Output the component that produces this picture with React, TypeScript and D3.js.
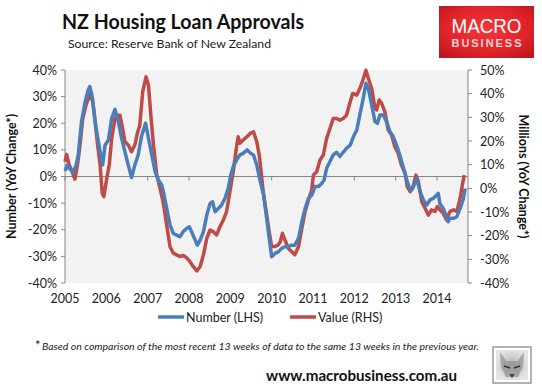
import * as d3 from "d3";

// YoY change in number of approvals (LHS), [year, %]
const numberSeries: [number, number][] = [
  [2005.0, 2.1], [2005.06, 4.3], [2005.12, 2.8], [2005.2, 1.6], [2005.27, 4.3],
  [2005.32, 8.1], [2005.4, 20.6], [2005.48, 27.5], [2005.56, 32.5], [2005.6, 33.8],
  [2005.66, 30.0], [2005.73, 20.6], [2005.78, 15.6], [2005.85, 9.3], [2005.91, 4.3],
  [2005.97, 11.8], [2006.05, 13.7], [2006.13, 21.9], [2006.21, 25.2], [2006.29, 20.6],
  [2006.37, 14.3], [2006.45, 9.3], [2006.53, 4.3], [2006.61, -0.4], [2006.69, 4.3],
  [2006.77, 8.1], [2006.85, 15.0], [2006.95, 20.0], [2007.02, 14.3], [2007.1, 8.1],
  [2007.18, 1.8], [2007.26, -1.3], [2007.34, -3.2], [2007.38, -5.7], [2007.46, -12.0],
  [2007.54, -18.2], [2007.62, -21.4], [2007.7, -22.0], [2007.78, -22.6], [2007.86, -20.7],
  [2007.94, -19.5], [2008.01, -18.9], [2008.06, -20.7], [2008.15, -23.9], [2008.2, -25.8],
  [2008.27, -23.9], [2008.35, -20.7], [2008.43, -14.5], [2008.51, -10.1], [2008.57, -9.5],
  [2008.63, -13.2], [2008.71, -12.0], [2008.79, -10.7], [2008.87, -8.2], [2008.95, -4.4],
  [2009.01, 0.6], [2009.07, 3.7], [2009.15, 6.2], [2009.23, 8.1], [2009.31, 8.7],
  [2009.41, 10.0], [2009.49, 8.7], [2009.56, 8.1], [2009.64, 4.3], [2009.72, -1.6],
  [2009.8, -6.5], [2009.88, -15.7], [2009.94, -23.2], [2010.0, -30.1], [2010.08, -28.9],
  [2010.16, -28.3], [2010.24, -27.0], [2010.32, -26.4], [2010.4, -26.4], [2010.48, -25.8],
  [2010.56, -25.8], [2010.65, -23.2], [2010.73, -17.0], [2010.81, -12.0], [2010.89, -8.2],
  [2010.97, -7.0], [2011.05, -3.8], [2011.13, -3.8], [2011.21, -2.6], [2011.27, -1.3],
  [2011.33, 3.1], [2011.41, 5.6], [2011.49, 8.1], [2011.57, 9.1], [2011.65, 7.5],
  [2011.73, 9.1], [2011.81, 10.6], [2011.9, 11.8], [2011.98, 15.0], [2012.06, 17.5],
  [2012.14, 23.7], [2012.22, 29.7], [2012.28, 35.0], [2012.34, 33.1], [2012.42, 26.9],
  [2012.5, 20.6], [2012.56, 20.0], [2012.62, 23.1], [2012.7, 23.1], [2012.78, 20.6],
  [2012.86, 16.9], [2012.94, 15.0], [2013.02, 11.8], [2013.1, 8.1], [2013.19, 3.1],
  [2013.27, -1.3], [2013.35, -5.1], [2013.43, -3.8], [2013.51, -0.7], [2013.59, -5.7],
  [2013.67, -8.8], [2013.75, -10.7], [2013.83, -8.8], [2013.91, -8.2], [2013.99, -7.0],
  [2014.03, -6.3], [2014.07, -10.1], [2014.15, -12.0], [2014.23, -15.1], [2014.27, -17.0],
  [2014.31, -15.7], [2014.4, -15.7], [2014.48, -15.1], [2014.56, -12.0], [2014.64, -8.2],
  [2014.68, -4.5],
];

// YoY change in value of approvals (RHS), [year, %]
const valueSeries: [number, number][] = [
  [2005.0, 11.3], [2005.04, 14.3], [2005.1, 9.8], [2005.16, 7.7], [2005.24, 3.9],
  [2005.3, 9.8], [2005.35, 16.2], [2005.43, 29.5], [2005.51, 35.2], [2005.6, 39.7],
  [2005.67, 36.6], [2005.73, 28.1], [2005.78, 19.7], [2005.85, 9.8], [2005.9, -2.1],
  [2005.94, -3.5], [2006.01, 4.2], [2006.07, 9.8], [2006.13, 21.1], [2006.21, 29.5],
  [2006.27, 30.9], [2006.33, 30.9], [2006.4, 24.6], [2006.45, 19.7], [2006.53, 18.3],
  [2006.61, 15.5], [2006.69, 18.3], [2006.75, 23.2], [2006.81, 26.7], [2006.88, 40.8],
  [2006.96, 47.1], [2007.02, 43.6], [2007.07, 32.3], [2007.14, 18.3], [2007.22, 5.6],
  [2007.3, 0.0], [2007.38, -6.3], [2007.46, -15.5], [2007.54, -24.6], [2007.62, -27.4],
  [2007.7, -28.1], [2007.78, -28.8], [2007.86, -28.4], [2007.94, -29.3], [2008.02, -30.9],
  [2008.1, -33.0], [2008.19, -34.9], [2008.27, -33.0], [2008.35, -28.1], [2008.43, -21.1],
  [2008.51, -17.6], [2008.59, -18.3], [2008.67, -19.7], [2008.75, -16.2], [2008.83, -13.4],
  [2008.91, -9.8], [2008.99, -1.4], [2009.07, 7.0], [2009.15, 17.6], [2009.19, 21.8],
  [2009.23, 19.0], [2009.31, 20.4], [2009.4, 21.8], [2009.48, 23.2], [2009.56, 23.9],
  [2009.64, 19.7], [2009.7, 14.0], [2009.75, 6.0], [2009.8, -2.0], [2009.88, -11.3],
  [2009.94, -18.3], [2010.0, -24.6], [2010.08, -24.6], [2010.16, -23.9], [2010.21, -22.5],
  [2010.26, -19.0], [2010.32, -21.8], [2010.4, -25.3], [2010.48, -26.7], [2010.56, -28.1],
  [2010.65, -24.6], [2010.73, -16.9], [2010.81, -9.8], [2010.89, -4.9], [2010.97, -0.7],
  [2011.01, 5.6], [2011.09, 7.0], [2011.17, 12.0], [2011.25, 14.1], [2011.33, 21.1],
  [2011.41, 25.3], [2011.49, 29.5], [2011.57, 29.5], [2011.65, 28.8], [2011.73, 29.5],
  [2011.81, 30.9], [2011.9, 36.6], [2011.96, 40.1], [2012.06, 39.4], [2012.14, 42.5],
  [2012.22, 46.4], [2012.28, 49.9], [2012.34, 46.4], [2012.42, 42.2], [2012.5, 33.8],
  [2012.54, 33.1], [2012.6, 37.3], [2012.66, 35.9], [2012.74, 32.3], [2012.82, 24.6],
  [2012.9, 22.5], [2012.98, 17.6], [2013.06, 14.8], [2013.14, 9.8], [2013.23, 6.3],
  [2013.28, 0.7], [2013.35, -1.4], [2013.41, 0.0], [2013.49, 5.6], [2013.55, 2.8],
  [2013.63, -5.6], [2013.71, -8.4], [2013.79, -11.3], [2013.87, -9.1], [2013.95, -9.8],
  [2014.01, -7.7], [2014.07, -9.1], [2014.15, -10.5], [2014.23, -13.4], [2014.31, -9.8],
  [2014.4, -9.1], [2014.48, -9.8], [2014.56, -4.2], [2014.62, 2.1], [2014.66, 5.6],
];

const yearTicks = [2005, 2006, 2007, 2008, 2009, 2010, 2011, 2012, 2013, 2014];
const leftTicks = [-40, -30, -20, -10, 0, 10, 20, 30, 40];
const rightTicks = [-40, -30, -20, -10, 0, 10, 20, 30, 40, 50];

const BLUE = "#4a7ebb";
const RED = "#be4b48";
const AXIS = "#868686";
const FONT = "Lato, 'Open Sans', sans-serif";

export default function App() {
  const width = 542;
  const height = 388;
  const left = 65, right = 468, top = 70, bottom = 283;

  const x = d3.scaleLinear().domain([2005, 2014.75]).range([left, right]);
  const yL = d3.scaleLinear().domain([-40, 40]).range([bottom, top]);
  const yR = d3.scaleLinear().domain([-40, 50]).range([bottom, top]);

  const numberLine = d3
    .line<[number, number]>()
    .x((d) => x(d[0]))
    .y((d) => yL(d[1]));
  const valueLine = d3
    .line<[number, number]>()
    .x((d) => x(d[0]))
    .y((d) => yR(d[1]));

  const pct = (v: number) => `${v}%`;
  const zeroY = yL(0);

  return (
    <svg
      width={width}
      height={height}
      style={{ position: "absolute", left: 0, top: 0, background: "#fff" }}
      fontFamily={FONT}
    >
      <defs>
        <radialGradient id="logoGrad" cx="50%" cy="45%" r="70%">
          <stop offset="0%" stopColor="#f5363a" />
          <stop offset="60%" stopColor="#e2242a" />
          <stop offset="100%" stopColor="#b9161b" />
        </radialGradient>
        <radialGradient id="wolfGrad" cx="50%" cy="50%" r="55%">
          <stop offset="0%" stopColor="#b5b5b5" />
          <stop offset="100%" stopColor="#e6e6e6" />
        </radialGradient>
      </defs>

      {/* title */}
      <text x={62} y={29} fontSize={20} fontWeight="bold" fill="#111" textLength={242} lengthAdjust="spacingAndGlyphs">
        NZ Housing Loan Approvals
      </text>
      <text x={68} y={48} fontSize={12} fill="#222" textLength={203} lengthAdjust="spacingAndGlyphs">
        Source: Reserve Bank of New Zealand
      </text>

      {/* logo */}
      <rect x={439} y={6} width={95} height={52} fill="url(#logoGrad)" />
      <text x={486.5} y={33} fontSize={20} textAnchor="middle" fill="#fff" fontFamily="'Liberation Sans', Arial, sans-serif" textLength={70} lengthAdjust="spacingAndGlyphs">
        MACRO
      </text>
      <text x={486.5} y={47} fontSize={11} fontWeight="bold" textAnchor="middle" fill="#f8d6d6" fontFamily="'Liberation Sans', Arial, sans-serif" textLength={70} lengthAdjust="spacing">
        BUSINESS
      </text>

      {/* plot area */}
      <rect x={left} y={top} width={right - left} height={bottom - top} fill="#f2f2f2" />

      {/* zero line with year ticks */}
      <line x1={left} x2={right} y1={zeroY} y2={zeroY} stroke={AXIS} strokeWidth={1} />
      {yearTicks.map((t) => (
        <line key={t} x1={x(t)} x2={x(t)} y1={zeroY} y2={zeroY + 4} stroke={AXIS} />
      ))}

      {/* left axis */}
      <line x1={left} x2={left} y1={top} y2={bottom} stroke={AXIS} />
      {leftTicks.map((t) => (
        <g key={t}>
          <line x1={left - 4} x2={left} y1={yL(t)} y2={yL(t)} stroke={AXIS} />
          <text x={57} y={yL(t) + 4.5} fontSize={12.5} textAnchor="end" fill="#222">
            {pct(t)}
          </text>
        </g>
      ))}

      {/* right axis */}
      <line x1={right} x2={right} y1={top} y2={bottom} stroke={AXIS} />
      {rightTicks.map((t) => (
        <g key={t}>
          <line x1={right} x2={right + 4} y1={yR(t)} y2={yR(t)} stroke={AXIS} />
          <text x={480} y={yR(t) + 4.5} fontSize={12.5} fill="#222">
            {pct(t)}
          </text>
        </g>
      ))}

      {/* year labels */}
      {yearTicks.map((t) => (
        <text key={t} x={x(t)} y={303} fontSize={12.5} textAnchor="middle" fill="#222">
          {t}
        </text>
      ))}

      {/* axis titles */}
      <text
        transform={`translate(16,${(top + bottom) / 2}) rotate(-90)`}
        fontSize={12.5}
        fontWeight="bold"
        textAnchor="middle"
        fill="#111"
      >
        Number (YoY Change*)
      </text>
      <text
        transform={`translate(519,${(top + bottom) / 2}) rotate(90)`}
        fontSize={12.5}
        fontWeight="bold"
        textAnchor="middle"
        fill="#111"
      >
        Millions (YoY Change*)
      </text>

      {/* series */}
      <path d={valueLine(valueSeries) ?? ""} fill="none" stroke={RED} strokeWidth={3.5} strokeLinejoin="round" />
      <path d={numberLine(numberSeries) ?? ""} fill="none" stroke={BLUE} strokeWidth={3.5} strokeLinejoin="round" />

      {/* legend */}
      <line x1={158} x2={184} y1={317} y2={317} stroke={BLUE} strokeWidth={3.5} />
      <text x={186} y={321.5} fontSize={12.5} fill="#222">
        Number (LHS)
      </text>
      <line x1={290} x2={316} y1={317} y2={317} stroke={RED} strokeWidth={3.5} />
      <text x={318} y={321.5} fontSize={12.5} fill="#222">
        Value (RHS)
      </text>

      {/* footnote */}
      <text x={35} y={350} fontSize={13} fill="#222">
        *
      </text>
      <text x={42} y={350} fontSize={9.5} fontStyle="italic" fill="#222" textLength={437} lengthAdjust="spacingAndGlyphs">
        Based on comparison of the most recent 13 weeks of data to the same 13 weeks in the previous year.
      </text>

      {/* website */}
      <text x={266} y={381} fontSize={15} fontWeight="bold" fill="#111" textLength={191} lengthAdjust="spacingAndGlyphs">
        www.macrobusiness.com.au
      </text>

      {/* wolf badge */}
      <rect x={493} y={347} width={38} height={36} fill="#fff" stroke="#9a9a9a" strokeWidth={1.5} />
      <rect x={496} y={350} width={32} height={30} fill="url(#wolfGrad)" />
      <path d="M500,352 L506,361 L518,361 L524,352 L523,367 L518,377 L506,377 L501,367 Z" fill="#8a8a8a" opacity={0.65} />
      <path d="M504,366 L510,368 M514,368 L520,366" stroke="#333" strokeWidth={1.5} />
      <path d="M509,374 L512,378 L515,374 Z" fill="#444" />
    </svg>
  );
}
